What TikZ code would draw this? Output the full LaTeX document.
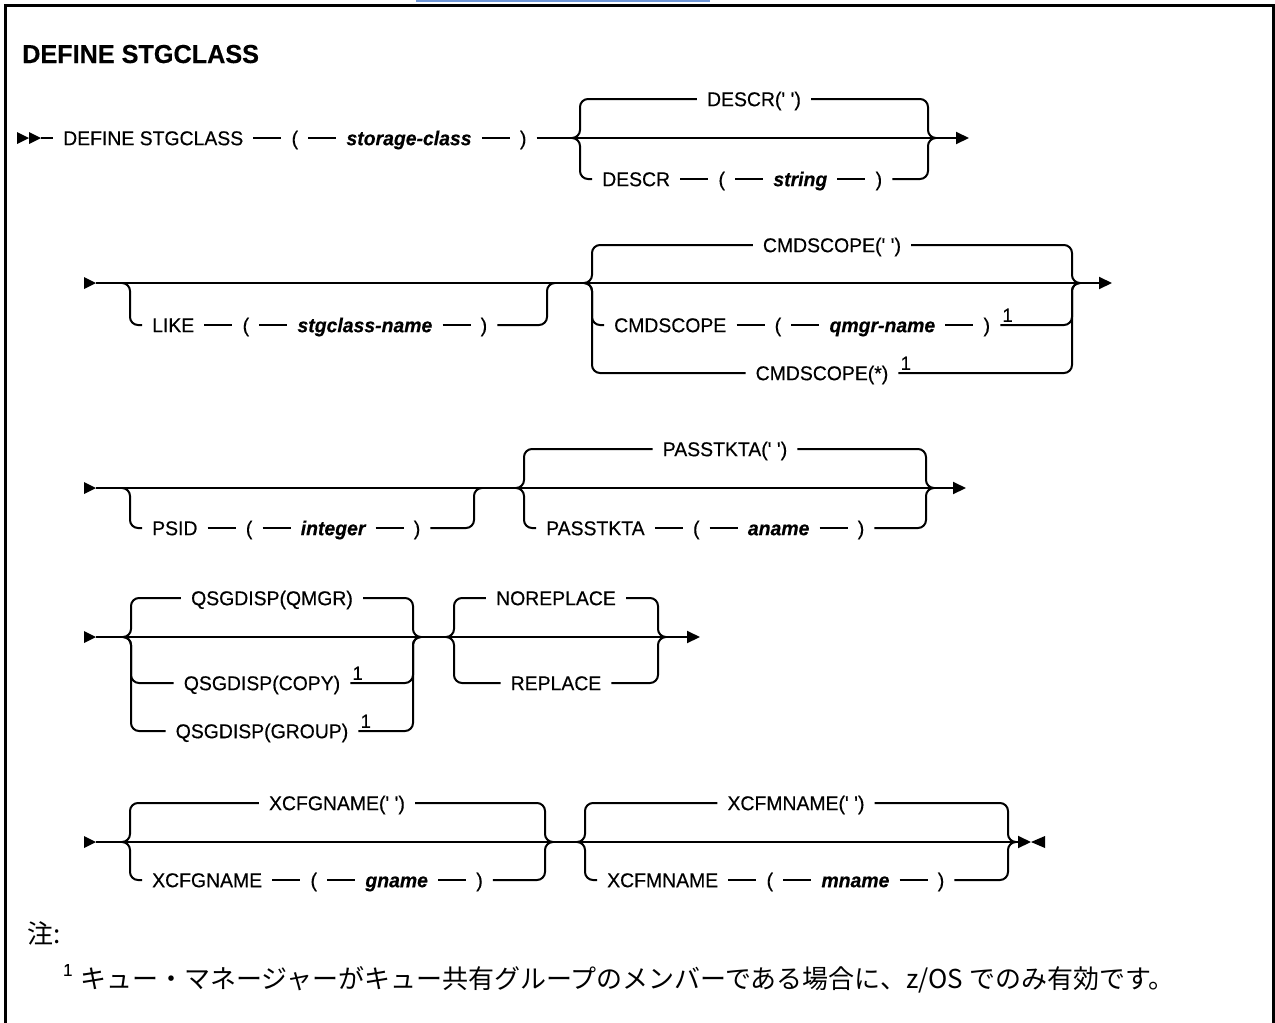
\documentclass[tikz,border=0pt]{standalone}
\usepackage{fontspec}
\setmainfont{Liberation Sans}[FakeStretch=0.97, FakeBold=0.4]
\newfontfamily\jpfont{Noto Sans CJK JP}
\usepackage{tikz}
\usetikzlibrary{arrows.meta, positioning}
\definecolor{linkblue}{RGB}{110,150,215}
\newcommand{\qs}{\textquotesingle}
\tikzset{
  railline/.style={line width=2pt},
  kwnode/.style={font=\fontsize{20}{24}\selectfont, text height=18pt,
    text depth=3.6pt, inner xsep=10pt, inner ysep=0pt},
  varnode/.style={kwnode, font=\fontsize{20}{24}\selectfont\bfseries\itshape},
  fnmark/.style={font=\fontsize{19}{22}\selectfont, inner sep=0pt, anchor=south west},
  ttl/.style={font=\fontsize{26}{30}\selectfont\bfseries, inner sep=0pt},
  notetext/.style={font=\jpfont\fontsize{26}{30}\selectfont, inner sep=0pt},
  endarrow/.style={railline, -{Triangle[length=13pt, width=12pt]}},
  fork/.style={railline, rounded corners=8pt}
}

\begin{document}
\begin{tikzpicture}[x=1pt, y=-1pt, node distance=28pt]
  \useasboundingbox (0,0) rectangle (1275,1023);
  % frame
  \draw[line width=3pt] (5.5,1023) -- (5.5,5.5) -- (1273.5,5.5) -- (1273.5,1023);
  \draw[line width=2pt, linkblue] (416,1) -- (710,1);
  \node[ttl, anchor=base west] (title) at (22,63) {DEFINE STGCLASS};

  % row 1
  \fill (17,132) -- (29,138) -- (17,144) -- cycle;
  \fill (29,132) -- (41,138) -- (29,144) -- cycle;
  \coordinate (s1) at (41,138);
  \node[kwnode, anchor=west] (def) at (53,138) {DEFINE STGCLASS};
  \node[kwnode, right=of def] (lp1) {(};
  \node[varnode, right=of lp1] (scls) {storage-class};
  \node[kwnode, right=of scls] (rp1) {)};
  \coordinate (f1) at (580,138);
  \coordinate (j1) at (928,138);
  \coordinate (e1) at (969,138);
  \node[kwnode] (dsc0) at (754,99) {DESCR(\qs{} \qs)};
  \node[kwnode, anchor=west] (dsc) at (592,179) {DESCR};
  \node[kwnode, right=of dsc] (lp2) {(};
  \node[varnode, right=of lp2] (str) {string};
  \node[kwnode, right=of str] (rp2) {)};
  \draw[railline] (s1) -- (def) -- (lp1) -- (scls) -- (rp1);
  \draw[endarrow] (rp1) -- (e1);
  \draw[railline] (dsc) -- (lp2) -- (str) -- (rp2);
  \draw[fork] (dsc0.west) -| (f1) -- ++(-8,0);
  \draw[fork] (dsc.west) -| (f1) -- ++(-8,0);
  \draw[fork] (dsc0.east) -| (j1) -- ++(8,0);
  \draw[fork] (rp2.east) -| (j1) -- ++(8,0);

  % row 2
  \fill (84,277) -- (96,283) -- (84,289) -- cycle;
  \coordinate (s2) at (96,283);
  \coordinate (f2a) at (130,283);
  \coordinate (j2a) at (547,283);
  \coordinate (f2b) at (592,283);
  \coordinate (j2b) at (1072,283);
  \coordinate (e2) at (1112,283);
  \draw[endarrow] (s2) -- (e2);
  \node[kwnode, anchor=west] (like) at (142,325) {LIKE};
  \node[kwnode, right=of like] (lp3) {(};
  \node[varnode, right=of lp3] (sgn) {stgclass-name};
  \node[kwnode, right=of sgn] (rp3) {)};
  \draw[railline] (like) -- (lp3) -- (sgn) -- (rp3);
  \draw[fork] (like.west) -| (f2a) -- ++(-8,0);
  \draw[fork] (rp3.east) -| (j2a) -- ++(8,0);
  \node[kwnode] (cmd0) at (832,245) {CMDSCOPE(\qs{} \qs)};
  \node[kwnode, anchor=west] (cmd) at (604,325) {CMDSCOPE};
  \node[kwnode, right=of cmd] (lp4) {(};
  \node[varnode, right=of lp4] (qmn) {qmgr-name};
  \node[kwnode, right=of qmn] (rp4) {)};
  \node[fnmark] (n1) at ([xshift=2pt, yshift=3pt]rp4.east) {1};
  \node[kwnode] (cmdall) at (822,373) {CMDSCOPE(*)};
  \node[fnmark] (n2) at ([xshift=2pt, yshift=3pt]cmdall.east) {1};
  \draw[railline] (cmd) -- (lp4) -- (qmn) -- (rp4);
  \draw[fork] (cmd0.west) -| (f2b) -- ++(-8,0);
  \draw[fork] (cmd.west) -| (f2b) -- ++(-8,0);
  \draw[fork] (cmdall.west) -| (f2b) -- ++(-8,0);
  \draw[fork] (cmd0.east) -| (j2b) -- ++(8,0);
  \draw[fork] (rp4.east) -| (j2b) -- ++(8,0);
  \draw[fork] (cmdall.east) -| (j2b) -- ++(8,0);

  % row 3
  \fill (84,482) -- (96,488) -- (84,494) -- cycle;
  \coordinate (s3) at (96,488);
  \coordinate (f3a) at (130,488);
  \coordinate (j3a) at (474,488);
  \coordinate (f3b) at (524,488);
  \coordinate (j3b) at (926,488);
  \coordinate (e3) at (966,488);
  \draw[endarrow] (s3) -- (e3);
  \node[kwnode, anchor=west] (psid) at (142,528) {PSID};
  \node[kwnode, right=of psid] (lp5) {(};
  \node[varnode, right=of lp5] (intg) {integer};
  \node[kwnode, right=of intg] (rp5) {)};
  \draw[railline] (psid) -- (lp5) -- (intg) -- (rp5);
  \draw[fork] (psid.west) -| (f3a) -- ++(-8,0);
  \draw[fork] (rp5.east) -| (j3a) -- ++(8,0);
  \node[kwnode] (pas0) at (725,449) {PASSTKTA(\qs{} \qs)};
  \node[kwnode, anchor=west] (pas) at (536,528) {PASSTKTA};
  \node[kwnode, right=of pas] (lp6) {(};
  \node[varnode, right=of lp6] (anm) {aname};
  \node[kwnode, right=of anm] (rp6) {)};
  \draw[railline] (pas) -- (lp6) -- (anm) -- (rp6);
  \draw[fork] (pas0.west) -| (f3b) -- ++(-8,0);
  \draw[fork] (pas.west) -| (f3b) -- ++(-8,0);
  \draw[fork] (pas0.east) -| (j3b) -- ++(8,0);
  \draw[fork] (rp6.east) -| (j3b) -- ++(8,0);

  % row 4
  \fill (84,631) -- (96,637) -- (84,643) -- cycle;
  \coordinate (s4) at (96,637);
  \coordinate (f4a) at (131,637);
  \coordinate (j4a) at (413,637);
  \coordinate (f4b) at (454,637);
  \coordinate (j4b) at (658,637);
  \coordinate (e4) at (700,637);
  \draw[endarrow] (s4) -- (e4);
  \node[kwnode] (qm) at (272,598) {QSGDISP(QMGR)};
  \node[kwnode] (qc) at (262,683) {QSGDISP(COPY)};
  \node[fnmark] (n3) at ([xshift=2pt, yshift=3pt]qc.east) {1};
  \node[kwnode] (qg) at (262,731) {QSGDISP(GROUP)};
  \node[fnmark] (n4) at ([xshift=2pt, yshift=3pt]qg.east) {1};
  \draw[fork] (qm.west) -| (f4a) -- ++(-8,0);
  \draw[fork] (qc.west) -| (f4a) -- ++(-8,0);
  \draw[fork] (qg.west) -| (f4a) -- ++(-8,0);
  \draw[fork] (qm.east) -| (j4a) -- ++(8,0);
  \draw[fork] (qc.east) -| (j4a) -- ++(8,0);
  \draw[fork] (qg.east) -| (j4a) -- ++(8,0);
  \node[kwnode] (norep) at (556,598) {NOREPLACE};
  \node[kwnode] (rep) at (556,683) {REPLACE};
  \draw[fork] (norep.west) -| (f4b) -- ++(-8,0);
  \draw[fork] (rep.west) -| (f4b) -- ++(-8,0);
  \draw[fork] (norep.east) -| (j4b) -- ++(8,0);
  \draw[fork] (rep.east) -| (j4b) -- ++(8,0);

  % row 5
  \fill (84,836) -- (96,842) -- (84,848) -- cycle;
  \coordinate (s5) at (96,842);
  \coordinate (f5a) at (130,842);
  \coordinate (j5a) at (545,842);
  \coordinate (f5b) at (585,842);
  \coordinate (j5b) at (1008,842);
  \coordinate (e5) at (1031,842);
  \draw[endarrow] (s5) -- (e5);
  \fill (1045,836) -- (1031,842) -- (1045,848) -- cycle;
  \node[kwnode] (xg0) at (337,803) {XCFGNAME(\qs{} \qs)};
  \node[kwnode, anchor=west] (xg) at (142,880) {XCFGNAME};
  \node[kwnode, right=of xg] (lp7) {(};
  \node[varnode, right=of lp7] (gnm) {gname};
  \node[kwnode, right=of gnm] (rp7) {)};
  \draw[railline] (xg) -- (lp7) -- (gnm) -- (rp7);
  \draw[fork] (xg0.west) -| (f5a) -- ++(-8,0);
  \draw[fork] (xg.west) -| (f5a) -- ++(-8,0);
  \draw[fork] (xg0.east) -| (j5a) -- ++(8,0);
  \draw[fork] (rp7.east) -| (j5a) -- ++(8,0);
  \node[kwnode] (xm0) at (796,803) {XCFMNAME(\qs{} \qs)};
  \node[kwnode, anchor=west] (xm) at (597,880) {XCFMNAME};
  \node[kwnode, right=of xm] (lp8) {(};
  \node[varnode, right=of lp8] (mnm) {mname};
  \node[kwnode, right=of mnm] (rp8) {)};
  \draw[railline] (xm) -- (lp8) -- (mnm) -- (rp8);
  \draw[fork] (xm0.west) -| (f5b) -- ++(-8,0);
  \draw[fork] (xm.west) -| (f5b) -- ++(-8,0);
  \draw[fork] (xm0.east) -| (j5b) -- ++(8,0);
  \draw[fork] (rp8.east) -| (j5b) -- ++(8,0);

  % notes
  \node[notetext, anchor=west] (zhu) at (27,933) {注:};
  \node[fnmark, font=\fontsize{17}{20}\selectfont] (n5) at (63,976) {1};
  \node[notetext, anchor=west] (note) at (80,980) {キュー・マネージャーがキュー共有グループのメンバーである場合に、z/OS でのみ有効です。};
\end{tikzpicture}
\end{document}
